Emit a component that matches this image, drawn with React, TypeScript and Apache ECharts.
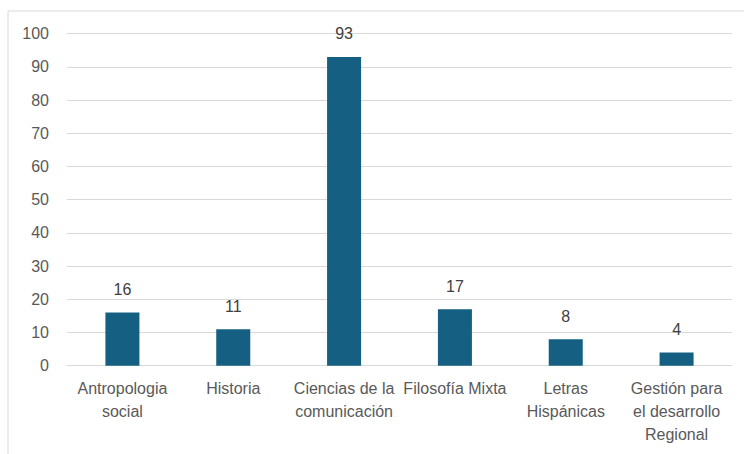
import React, { useEffect, useRef } from "react";
import * as echarts from "echarts";

const categories = [
  "Antropologia\nsocial",
  "Historia",
  "Ciencias de la\ncomunicación",
  "Filosofía Mixta",
  "Letras\nHispánicas",
  "Gestión para\nel desarrollo\nRegional",
];
const values = [16, 11, 93, 17, 8, 4];

export default function App() {
  const ref = useRef<HTMLDivElement>(null);
  useEffect(() => {
    if (!ref.current) return;
    const chart = echarts.init(ref.current, null, { renderer: "svg" });
    chart.setOption({
      animation: false,
      backgroundColor: "#ffffff",
      graphic: [
        {
          type: "rect",
          shape: { x: 8, y: 11, width: 800, height: 500 },
          style: { fill: "none", stroke: "#d9d9d9", lineWidth: 1 },
          silent: true,
          z: -10,
        },
      ],
      grid: { left: 67, right: 12, top: 33.7, bottom: 88.3, containLabel: false },
      xAxis: {
        type: "category",
        data: categories,
        axisLine: { show: true, lineStyle: { color: "#d9d9d9", width: 1 } },
        axisTick: { show: false },
        axisLabel: {
          interval: 0,
          color: "#595959",
          fontSize: 16,
          fontFamily: "Liberation Sans, Arial, sans-serif",
          lineHeight: 23,
          margin: 11,
        },
      },
      yAxis: {
        type: "value",
        min: 0,
        max: 100,
        interval: 10,
        axisLine: { show: false },
        axisTick: { show: false },
        splitLine: { lineStyle: { color: "#d9d9d9", width: 1 } },
        axisLabel: {
          color: "#595959",
          fontSize: 16,
          fontFamily: "Liberation Sans, Arial, sans-serif",
          margin: 18,
        },
      },
      series: [
        {
          type: "bar",
          data: values,
          barWidth: "30.7%",
          itemStyle: { color: "#156082" },
          label: {
            show: true,
            position: "top",
            distance: 15,
            color: "#404040",
            fontSize: 16,
            fontFamily: "Liberation Sans, Arial, sans-serif",
          },
        },
      ],
    });
    return () => chart.dispose();
  }, []);
  return (
    <div
      ref={ref}
      style={{ position: "fixed", left: 0, top: 0, width: 744, height: 454 }}
    />
  );
}
